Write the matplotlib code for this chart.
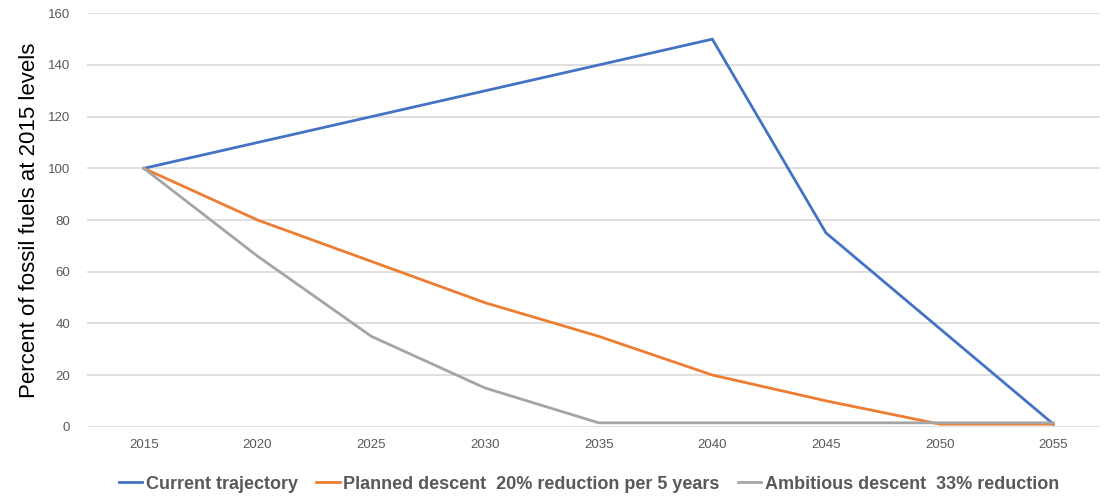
import matplotlib
matplotlib.use("Agg")
import matplotlib.pyplot as plt

# data
years = ["2015", "2020", "2025", "2030", "2035", "2040", "2045", "2050", "2055"]
current = [100, 110, 120, 130, 140, 150, 75, 38, 1]
planned = [100, 80, 64, 48, 35, 20, 10, 1, 1]
ambitious = [100, 66, 35, 15, 1.5, 1.5, 1.5, 1.5, 1.5]

labels = ["Current trajectory",
          "Planned descent  20% reduction per 5 years",
          "Ambitious descent  33% reduction"]
colors = ["#4472C4", "#ED7D31", "#A5A5A5"]

plt.rcParams['font.family'] = ['Liberation Sans', 'DejaVu Sans']

fig = plt.figure(figsize=(11.07, 4.99), dpi=100)
ax = fig.add_axes([87 / 1107, 0.1449, 1013 / 1107, 0.8284])

x = list(range(len(years)))
for series, lab, col in zip([current, planned, ambitious], labels, colors):
    ax.plot(x, series, color=col, lw=2.0, label=lab, solid_joinstyle="miter")

ax.set_xlim(-0.5, 8.41)
ax.set_ylim(0, 160)
ax.set_yticks(range(0, 161, 20))
ax.set_xticks(x)
ax.set_xticklabels(years)
ax.tick_params(axis="both", length=0, labelsize=9.5, labelcolor="#595959")
ax.tick_params(axis="y", pad=12)
ax.tick_params(axis="x", pad=9)
ax.grid(axis="y", color="#D9D9D9", lw=1.2)
ax.set_axisbelow(True)
for s in ax.spines.values():
    s.set_visible(False)

ax.set_ylabel("Percent of fossil fuels at 2015 levels", fontsize=16,
              color="#000000", labelpad=6)

leg = fig.legend(loc="center", bbox_to_anchor=(0.532, 0.03), ncol=3,
                 frameon=False, handlelength=1.3, handletextpad=0.2,
                 columnspacing=1.0,
                 prop={"weight": "bold", "size": 13})
for t in leg.get_texts():
    t.set_color("#595959")

fig.savefig("out.png", dpi=100)
